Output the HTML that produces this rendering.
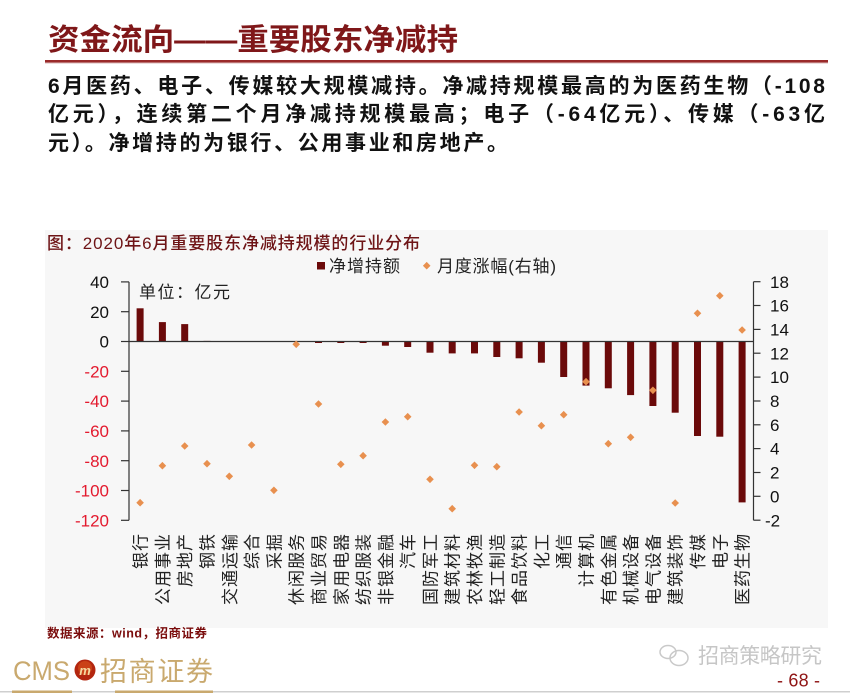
<!DOCTYPE html>
<html>
<head>
<meta charset="utf-8">
<style>
  html,body{margin:0;padding:0;background:#fff;}
  svg{display:block;}
  .cjk{font-family:"Liberation Sans","Noto Sans CJK SC",sans-serif;}
  .num{font-family:"Liberation Sans",Arial,sans-serif;}
</style>
</head>
<body>
<svg width="850" height="694" viewBox="0 0 850 694" xmlns="http://www.w3.org/2000/svg">
  <rect x="0" y="0" width="850" height="694" fill="#ffffff"/>

  <!-- Header title -->
  <text class="cjk" x="48" y="50" font-size="30" font-weight="bold" fill="#7f1719" textLength="410" lengthAdjust="spacingAndGlyphs">资金流向——重要股东净减持</text>
  <rect x="45" y="60" width="783" height="2.5" fill="#9a2a2a"/>
  <rect x="45" y="62.5" width="783" height="1" fill="#d9b8b8"/>

  <!-- Body text -->
  <g class="cjk" font-size="21" font-weight="bold" fill="#111">
    <text x="48" y="93" textLength="777" lengthAdjust="spacing">6月医药、电子、传媒较大规模减持。净减持规模最高的为医药生物（-108</text>
    <text x="48" y="121" textLength="777" lengthAdjust="spacing">亿元），连续第二个月净减持规模最高；电子（-64亿元）、传媒（-63亿</text>
    <text x="48" y="150" textLength="460" lengthAdjust="spacing">元）。净增持的为银行、公用事业和房地产。</text>
  </g>

  <!-- Chart background -->
  <rect x="45" y="230" width="783" height="398" fill="#f7f7f7"/>

  <!-- Chart title -->
  <text class="cjk" x="47" y="249" font-size="17" font-weight="500" fill="#6e1416" textLength="373" lengthAdjust="spacing">图：2020年6月重要股东净减持规模的行业分布</text>

  <!-- Legend -->
  <rect x="317" y="262" width="8" height="7.5" fill="#6b0a0a"/>
  <text class="cjk" x="329" y="272" font-size="17" fill="#222" textLength="71" lengthAdjust="spacing">净增持额</text>
  <polygon points="426.7,261.9 430.5,265.7 426.7,269.5 422.9,265.7" fill="#e8904f"/>
  <text class="cjk" x="437" y="272" font-size="17" fill="#222" textLength="119" lengthAdjust="spacing">月度涨幅(右轴)</text>

  <!-- Unit -->
  <text class="cjk" x="139" y="298" font-size="17" fill="#222" textLength="91" lengthAdjust="spacing">单位：亿元</text>

  <!-- Left axis -->
  <g stroke="#333" stroke-width="1.2" fill="none">
    <line x1="129" y1="281.9" x2="129" y2="520.3"/>
    <line x1="121" y1="281.9" x2="129" y2="281.9"/>
    <line x1="121" y1="311.7" x2="129" y2="311.7"/>
    <line x1="121" y1="341.5" x2="129" y2="341.5"/>
    <line x1="121" y1="371.3" x2="129" y2="371.3"/>
    <line x1="121" y1="401.1" x2="129" y2="401.1"/>
    <line x1="121" y1="430.9" x2="129" y2="430.9"/>
    <line x1="121" y1="460.7" x2="129" y2="460.7"/>
    <line x1="121" y1="490.5" x2="129" y2="490.5"/>
    <line x1="121" y1="520.3" x2="129" y2="520.3"/>
  </g>
  <g class="num" font-size="17" text-anchor="end">
    <text x="109" y="288" fill="#111">40</text>
    <text x="109" y="318" fill="#111">20</text>
    <text x="109" y="347.5" fill="#111">0</text>
    <text x="109" y="377.5" fill="#e31a2e">-20</text>
    <text x="109" y="407" fill="#e31a2e">-40</text>
    <text x="109" y="437" fill="#e31a2e">-60</text>
    <text x="109" y="467" fill="#e31a2e">-80</text>
    <text x="109" y="496.5" fill="#e31a2e">-100</text>
    <text x="109" y="526.5" fill="#e31a2e">-120</text>
  </g>

  <!-- Right axis -->
  <g stroke="#333" stroke-width="1.2" fill="none">
    <line x1="753.5" y1="281.7" x2="753.5" y2="520.2"/>
    <line x1="753.5" y1="281.7" x2="760.5" y2="281.7"/>
    <line x1="753.5" y1="305.5" x2="760.5" y2="305.5"/>
    <line x1="753.5" y1="329.4" x2="760.5" y2="329.4"/>
    <line x1="753.5" y1="353.2" x2="760.5" y2="353.2"/>
    <line x1="753.5" y1="377.1" x2="760.5" y2="377.1"/>
    <line x1="753.5" y1="401.0" x2="760.5" y2="401.0"/>
    <line x1="753.5" y1="424.8" x2="760.5" y2="424.8"/>
    <line x1="753.5" y1="448.6" x2="760.5" y2="448.6"/>
    <line x1="753.5" y1="472.5" x2="760.5" y2="472.5"/>
    <line x1="753.5" y1="496.3" x2="760.5" y2="496.3"/>
    <line x1="753.5" y1="520.2" x2="760.5" y2="520.2"/>
  </g>
  <g class="num" font-size="17" fill="#111">
    <text x="770" y="287.8">18</text>
    <text x="770" y="311.6">16</text>
    <text x="770" y="335.5">14</text>
    <text x="770" y="359.3">12</text>
    <text x="770" y="383.2">10</text>
    <text x="770" y="407.1">8</text>
    <text x="770" y="430.9">6</text>
    <text x="770" y="454.7">4</text>
    <text x="770" y="478.6">2</text>
    <text x="770" y="502.4">0</text>
    <text x="765" y="526.3">-2</text>
  </g>

  <!-- Bars -->
  <g fill="#6b0a0a">
    <rect x="136.6" y="308.3" width="7" height="33.2"/>
    <rect x="158.9" y="322.1" width="7" height="19.4"/>
    <rect x="181.2" y="324.1" width="7" height="17.4"/>
    <rect x="203.5" y="340.9" width="7" height="0.8"/>
    <rect x="315.0" y="341.5" width="7" height="1.5"/>
    <rect x="337.3" y="341.5" width="7" height="1.5"/>
    <rect x="359.6" y="341.5" width="7" height="1.5"/>
    <rect x="381.9" y="341.5" width="7" height="4.2"/>
    <rect x="404.2" y="341.5" width="7" height="5.5"/>
    <rect x="426.5" y="341.5" width="7" height="11.2"/>
    <rect x="448.7" y="341.5" width="7" height="11.9"/>
    <rect x="471.0" y="341.5" width="7" height="11.9"/>
    <rect x="493.3" y="341.5" width="7" height="15.5"/>
    <rect x="515.6" y="341.5" width="7" height="16.8"/>
    <rect x="537.9" y="341.5" width="7" height="21.2"/>
    <rect x="560.2" y="341.5" width="7" height="35.5"/>
    <rect x="582.5" y="341.5" width="7" height="44.1"/>
    <rect x="604.8" y="341.5" width="7" height="46.8"/>
    <rect x="627.1" y="341.5" width="7" height="53.6"/>
    <rect x="649.4" y="341.5" width="7" height="64.5"/>
    <rect x="671.7" y="341.5" width="7" height="71.2"/>
    <rect x="694.0" y="341.5" width="7" height="94.5"/>
    <rect x="716.3" y="341.5" width="7" height="95.2"/>
    <rect x="738.6" y="341.5" width="7" height="160.9"/>
  </g>

  <!-- Zero line -->
  <line x1="129" y1="341.5" x2="753.5" y2="341.5" stroke="#333" stroke-width="1.2"/>

  <!-- Diamonds -->
  <g fill="#e8904f">
    <polygon points="140.1,498.9 143.9,502.7 140.1,506.5 136.3,502.7"/>
    <polygon points="162.4,461.9 166.2,465.7 162.4,469.5 158.6,465.7"/>
    <polygon points="184.7,442.2 188.5,446.0 184.7,449.8 180.9,446.0"/>
    <polygon points="207.0,459.9 210.8,463.7 207.0,467.5 203.2,463.7"/>
    <polygon points="229.3,472.5 233.1,476.3 229.3,480.1 225.5,476.3"/>
    <polygon points="251.6,441.2 255.4,445.0 251.6,448.8 247.8,445.0"/>
    <polygon points="273.9,486.5 277.7,490.3 273.9,494.1 270.1,490.3"/>
    <polygon points="296.2,340.5 300.0,344.3 296.2,348.1 292.4,344.3"/>
    <polygon points="318.5,400.2 322.3,404.0 318.5,407.8 314.7,404.0"/>
    <polygon points="340.8,460.5 344.6,464.3 340.8,468.1 337.0,464.3"/>
    <polygon points="363.1,451.9 366.9,455.7 363.1,459.5 359.3,455.7"/>
    <polygon points="385.4,418.2 389.2,422.0 385.4,425.8 381.6,422.0"/>
    <polygon points="407.7,412.9 411.5,416.7 407.7,420.5 403.9,416.7"/>
    <polygon points="430.0,475.5 433.8,479.3 430.0,483.1 426.2,479.3"/>
    <polygon points="452.2,504.9 456.0,508.7 452.2,512.5 448.4,508.7"/>
    <polygon points="474.5,461.5 478.3,465.3 474.5,469.1 470.7,465.3"/>
    <polygon points="496.8,462.9 500.6,466.7 496.8,470.5 493.0,466.7"/>
    <polygon points="519.1,408.2 522.9,412.0 519.1,415.8 515.3,412.0"/>
    <polygon points="541.4,421.9 545.2,425.7 541.4,429.5 537.6,425.7"/>
    <polygon points="563.7,410.9 567.5,414.7 563.7,418.5 559.9,414.7"/>
    <polygon points="586.0,377.9 589.8,381.7 586.0,385.5 582.2,381.7"/>
    <polygon points="608.3,439.9 612.1,443.7 608.3,447.5 604.5,443.7"/>
    <polygon points="630.6,433.5 634.4,437.3 630.6,441.1 626.8,437.3"/>
    <polygon points="652.9,386.5 656.7,390.3 652.9,394.1 649.1,390.3"/>
    <polygon points="675.2,499.2 679.0,503.0 675.2,506.8 671.4,503.0"/>
    <polygon points="697.5,309.5 701.3,313.3 697.5,317.1 693.7,313.3"/>
    <polygon points="719.8,291.9 723.6,295.7 719.8,299.5 716.0,295.7"/>
    <polygon points="742.1,326.2 745.9,330.0 742.1,333.8 738.3,330.0"/>
  </g>

  <!-- X labels (rotated) -->
  <g class="cjk" font-size="17" fill="#222" text-anchor="end" letter-spacing="1">
    <text transform="translate(140.1,533) rotate(-90)" dy="6.5">银行</text>
    <text transform="translate(162.4,533) rotate(-90)" dy="6.5">公用事业</text>
    <text transform="translate(184.7,533) rotate(-90)" dy="6.5">房地产</text>
    <text transform="translate(207.0,533) rotate(-90)" dy="6.5">钢铁</text>
    <text transform="translate(229.3,533) rotate(-90)" dy="6.5">交通运输</text>
    <text transform="translate(251.6,533) rotate(-90)" dy="6.5">综合</text>
    <text transform="translate(273.9,533) rotate(-90)" dy="6.5">采掘</text>
    <text transform="translate(296.2,533) rotate(-90)" dy="6.5">休闲服务</text>
    <text transform="translate(318.5,533) rotate(-90)" dy="6.5">商业贸易</text>
    <text transform="translate(340.8,533) rotate(-90)" dy="6.5">家用电器</text>
    <text transform="translate(363.1,533) rotate(-90)" dy="6.5">纺织服装</text>
    <text transform="translate(385.4,533) rotate(-90)" dy="6.5">非银金融</text>
    <text transform="translate(407.7,533) rotate(-90)" dy="6.5">汽车</text>
    <text transform="translate(430.0,533) rotate(-90)" dy="6.5">国防军工</text>
    <text transform="translate(452.2,533) rotate(-90)" dy="6.5">建筑材料</text>
    <text transform="translate(474.5,533) rotate(-90)" dy="6.5">农林牧渔</text>
    <text transform="translate(496.8,533) rotate(-90)" dy="6.5">轻工制造</text>
    <text transform="translate(519.1,533) rotate(-90)" dy="6.5">食品饮料</text>
    <text transform="translate(541.4,533) rotate(-90)" dy="6.5">化工</text>
    <text transform="translate(563.7,533) rotate(-90)" dy="6.5">通信</text>
    <text transform="translate(586.0,533) rotate(-90)" dy="6.5">计算机</text>
    <text transform="translate(608.3,533) rotate(-90)" dy="6.5">有色金属</text>
    <text transform="translate(630.6,533) rotate(-90)" dy="6.5">机械设备</text>
    <text transform="translate(652.9,533) rotate(-90)" dy="6.5">电气设备</text>
    <text transform="translate(675.2,533) rotate(-90)" dy="6.5">建筑装饰</text>
    <text transform="translate(697.5,533) rotate(-90)" dy="6.5">传媒</text>
    <text transform="translate(719.8,533) rotate(-90)" dy="6.5">电子</text>
    <text transform="translate(742.1,533) rotate(-90)" dy="6.5">医药生物</text>
  </g>

  <!-- Source -->
  <text class="cjk" x="47" y="637.5" font-size="12.5" font-weight="bold" fill="#7a0c0c" textLength="160" lengthAdjust="spacing">数据来源：wind，招商证券</text>

  <!-- Watermark -->
  <g fill="none" stroke="#c9c9c9" stroke-width="1.5">
    <ellipse cx="668" cy="652" rx="8" ry="6.5"/>
    <ellipse cx="679" cy="658" rx="9" ry="7.5"/>
  </g>
  <text class="cjk" x="698" y="663" font-size="21" fill="#c6c6c6" textLength="124" lengthAdjust="spacing">招商策略研究</text>

  <!-- Page number -->
  <text class="num" x="777" y="686.5" font-size="18" fill="#8f1414" textLength="43" lengthAdjust="spacing">- 68 -</text>

  <!-- CMS logo -->
  <text class="num" x="13" y="680" font-size="27" fill="#c9a96e" textLength="57" lengthAdjust="spacingAndGlyphs">CMS</text>
  <circle cx="85" cy="670" r="10.5" fill="#b3260f"/>
  <circle cx="85" cy="668" r="7" fill="#d9541c" opacity="0.6"/>
  <text class="num" x="85" y="675" font-size="13" font-weight="bold" font-style="italic" fill="#f6d9a0" text-anchor="middle">m</text>
  <text class="cjk" x="100" y="681" font-size="27" fill="#c9a96e" textLength="113" lengthAdjust="spacing">招商证券</text>

  <!-- Bottom line -->
  <rect x="0" y="691" width="850" height="1.5" fill="#cfcfcf"/>
  <rect x="12" y="690.5" width="60" height="2.5" fill="#c9a96e"/>
  <rect x="115" y="690.5" width="98" height="2.5" fill="#c9a96e"/>
</svg>
</body>
</html>
